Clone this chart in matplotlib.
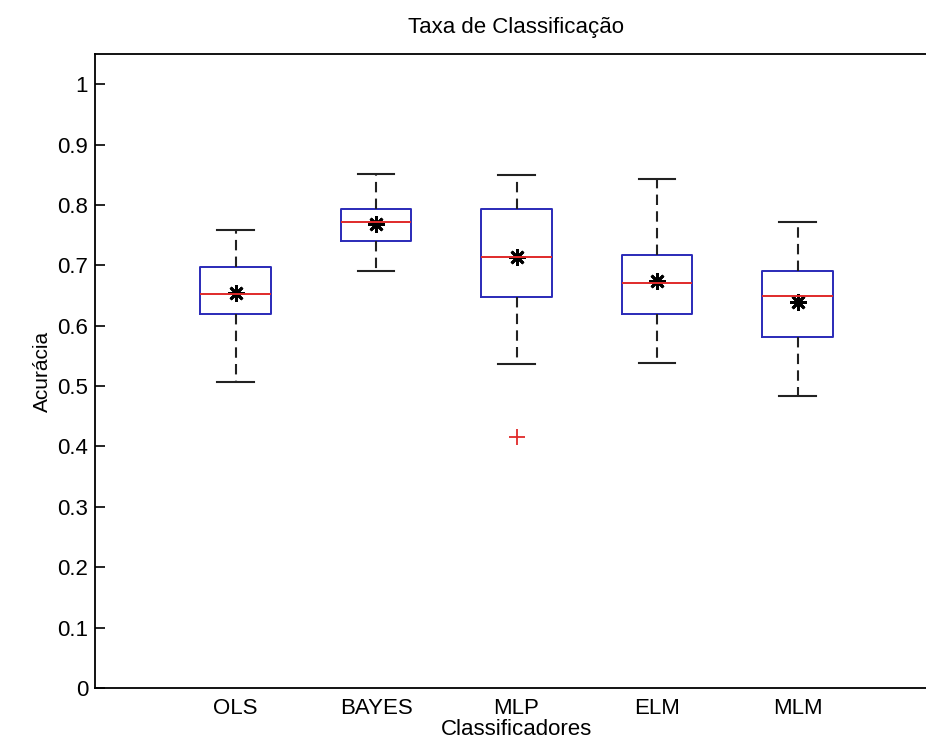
'''
Boxplot da taxa de classificacao (acuracia) de cada classificador
'''
import matplotlib
matplotlib.use('Agg')
import matplotlib.pyplot as plt

# Valores
classificadores = ['OLS', 'BAYES', 'MLP', 'ELM', 'MLM']
whisker_low = [0.507, 0.691, 0.536, 0.539, 0.483]
q1 = [0.619, 0.740, 0.648, 0.619, 0.581]
medianas = [0.652, 0.772, 0.714, 0.670, 0.649]
q3 = [0.698, 0.794, 0.794, 0.717, 0.690]
whisker_high = [0.759, 0.852, 0.849, 0.843, 0.771]
medias = [0.655, 0.768, 0.713, 0.674, 0.639]
outliers = [[], [], [0.416], [], []]
yticks = [0, 0.1, 0.2, 0.3, 0.4, 0.5, 0.6, 0.7, 0.8, 0.9, 1]
ytick_labels = ['0', '0.1', '0.2', '0.3', '0.4', '0.5', '0.6', '0.7', '0.8', '0.9', '1']


def main():
    plt.rcParams['font.family'] = ['Liberation Sans', 'DejaVu Sans']

    fig = plt.figure(figsize=(9.26, 7.47), dpi=100)
    # the axes run past the right edge of the picture, as in the screenshot
    ax = fig.add_axes([95 / 926, 59 / 747, 843 / 926, 634 / 747])

    # Build stats for bxp
    stats = []
    for i in range(len(classificadores)):
        stats.append({'whislo': whisker_low[i], 'q1': q1[i], 'med': medianas[i],
                      'q3': q3[i], 'whishi': whisker_high[i], 'fliers': outliers[i],
                      'label': classificadores[i]})

    pos = list(range(1, len(classificadores) + 1))
    ax.bxp(stats, positions=pos, widths=0.5, showfliers=True, showcaps=True,
           boxprops=dict(color='#2a2ab8', linewidth=1.4),
           medianprops=dict(color='#e02a2a', linewidth=1.4),
           whiskerprops=dict(color='#222222', linewidth=1.5, linestyle=(0, (5, 3))),
           capprops=dict(color='#222222', linewidth=1.5),
           flierprops=dict(marker='+', markeredgecolor='#e02a2a', markersize=12,
                           markeredgewidth=1.3, linestyle='none'),
           capwidths=0.26)

    # Mean marker (asterisk)
    ax.plot(pos, medias, linestyle='none', marker=(8, 2, 0), markersize=12,
            markeredgewidth=2.0, color='black')

    ax.set_xlim(0, 6)
    ax.set_ylim(0, 1.05)
    ax.set_yticks(yticks)
    ax.set_yticklabels(ytick_labels)
    ax.set_xticks(pos)
    ax.set_xticklabels(classificadores)
    ax.tick_params(axis='y', direction='in', length=7, width=1.2, labelsize=16, pad=5)
    ax.tick_params(axis='x', length=0, labelsize=16, pad=7)
    for s in ax.spines.values():
        s.set_linewidth(1.3)

    ax.set_title('Taxa de Classificação', fontsize=16, pad=15)
    ax.set_xlabel('Classificadores', fontsize=16, labelpad=0)
    ax.set_ylabel('Acurácia', fontsize=15, labelpad=4)

    plt.savefig('out.png', dpi=100)


if __name__ == '__main__':
    main()
